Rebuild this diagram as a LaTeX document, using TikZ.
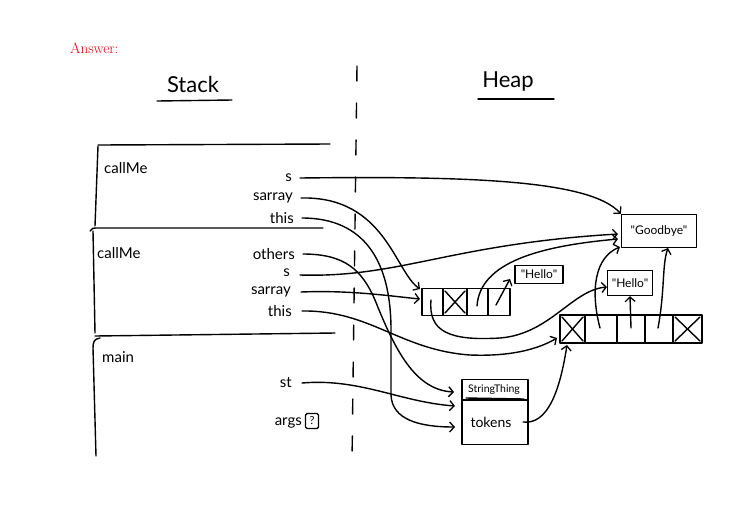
\documentclass[tikz,border=0pt]{standalone}
\usepackage{fontspec}
\newfontfamily\hand{Lato}
\usetikzlibrary{arrows.meta}
\definecolor{ansred}{RGB}{230,0,20}
\tikzset{
  ln/.style={line width=1.4pt, line cap=round, line join=round},
  ar/.style={ln, -{Straight Barb[length=4.5pt,width=10pt,line width=1.3pt]}},
  lbl/.style={font=\hand\fontsize{15}{15}\selectfont, inner sep=0pt, anchor=east},
  frm/.style={font=\hand\fontsize{15}{15}\selectfont, inner sep=0pt, anchor=west},
  ttl/.style={font=\hand\fontsize{22}{22}\selectfont, inner sep=0pt},
  hbox/.style={draw, ln, inner sep=0pt, font=\hand\fontsize{12}{12}\selectfont},
}
\begin{document}
\begin{tikzpicture}[x=1pt,y=-1pt]
\useasboundingbox (0,0) rectangle (744,504);
\fill[white] (0,0) rectangle (744,504);
% answer
\node[anchor=west, inner sep=0pt, text=ansred, font=\fontsize{15}{15}\selectfont] (ans) at (70,48) {Answer:};
% titles
\node[ttl] (stack) at (193,84) {Stack};
\draw[ln] (157,101) -- (232,100);
\node[ttl] (heap) at (508,82) {Heap};
\draw[ln] (478,99) -- (554,99);
% divider
\draw[ln, dash pattern=on 15pt off 22pt] (357,66) -- (352,462);
% stack frames
\draw[ln] (98,145) -- (330,144);
\draw[ln] (98,146) -- (95,226);
\draw[ln] (90,231) .. controls (92,228) .. (100,228) -- (323,228);
\draw[ln] (93,231) -- (95,333);
\draw[ln] (95,336) -- (335,333);
\draw[ln] (100,338) .. controls (94,339) and (93,342) .. (93,348) -- (96,456);
\node[frm] (f1name) at (104,168) {callMe};
\node[frm] (f2name) at (97,253) {callMe};
\node[frm] (f3name) at (102,357) {main};
% frame 1 vars
\node[lbl] (f1s) at (292,178) {s};
\node[lbl] (f1sarray) at (293,198) {sarray};
\node[lbl] (f1this) at (294,218) {this};
% frame 2 vars
\node[lbl] (f2others) at (295,254) {others};
\node[lbl] (f2s) at (290,273) {s};
\node[lbl] (f2sarray) at (291,292) {sarray};
\node[lbl] (f2this) at (292,311) {this};
% main vars
\node[lbl] (st) at (292,383) {st};
\node[lbl] (args) at (302,423) {args};
\node[draw, ln, rounded corners=1.5pt, minimum width=13pt, minimum height=15pt, inner sep=0pt, font=\hand\fontsize{11}{11}\selectfont] (q) at (312,421) {?};
% heap: array 1
\node[draw, ln, minimum width=88pt, minimum height=27pt, inner sep=0pt] (arr1) at (466,302) {};
\draw[ln] (443,289) -- (443,315);
\draw[ln] (467,289) -- (467,315);
\draw[ln] (488,289) -- (488,315);
\draw[ln] (445,313) -- (465,291);
\draw[ln] (445,291) -- (465,313);
% heap: array 2
\node[draw, ln, minimum width=142pt, minimum height=28pt, inner sep=0pt] (arr2) at (631,329) {};
\draw[ln] (585,315) -- (585,343);
\draw[ln] (617,315) -- (617,343);
\draw[ln] (645,315) -- (645,343);
\draw[ln] (673,315) -- (673,343);
\draw[ln] (562,317) -- (583,341);
\draw[ln] (583,317) -- (562,341);
\draw[ln] (675,317) -- (700,341);
\draw[ln] (700,317) -- (675,341);
% strings
\node[hbox, minimum width=48pt, minimum height=18pt] (hello1) at (539,274.5) {"Hello"};
\node[hbox, minimum width=45pt, minimum height=25pt] (hello2) at (630,283) {"Hello"};
\node[hbox, minimum width=75pt, minimum height=33pt] (goodbye) at (659,231) {"Goodbye"};
% StringThing
\node[draw, ln, minimum width=66pt, minimum height=65pt, inner sep=0pt] (sthing) at (495,412) {};
\draw[ln] (462,400) -- (528,400);
\node[inner sep=0pt, font=\hand\fontsize{10.5}{10.5}\selectfont] (stname) at (494,390) {StringThing};
\draw[ln] (466,398) -- (524,399);
\node[inner sep=0pt, font=\hand\fontsize{14}{14}\selectfont] (tokens) at (491,422) {tokens};
% connector coordinates
\coordinate (a1c0) at (431,300);
\coordinate (a1c2) at (477,306);
\coordinate (a1c3) at (496,305);
\coordinate (a2c1) at (600,328);
\coordinate (a2c2) at (631,328);
\coordinate (a2c3) at (658,328);
\coordinate (tk) at (523,422);
% connectors
\draw[ar] (f1s.east) ++(8,0) .. controls (470,176) and (590,180) .. (goodbye.north west);
\draw[ar] (f1sarray.east) ++(8,0) .. controls (385,196) and (395,272) .. (420,289);
\draw[ar] (f1this.east) ++(8,0) .. controls (365,218) and (391,262) .. (391,330) -- (391,395) .. controls (392,420) and (420,427) .. (455,427);
\draw[ar] (f2others.east) ++(8,0) .. controls (345,254) and (362,270) .. (375,300) .. controls (395,350) and (415,390) .. (454,392);
\draw[ar] (f2s.east) ++(10,2) .. controls (400,278) and (450,244) .. (618,234);
\draw[ar] (f2sarray.east) ++(10,0) .. controls (350,290) and (390,296) .. (420,299);
\draw[ar] (f2this.east) ++(10,0) .. controls (370,310) and (400,350) .. (470,355) .. controls (520,357) and (545,345) .. (557,338);
\draw[ar] (st.east) ++(10,0) .. controls (360,378) and (400,402) .. (455,406);
\draw[ar] (tk) .. controls (548,425) and (560,390) .. (567,345);
\draw[ar] (a1c0) .. controls (428,332) and (450,341) .. (500,338) .. controls (550,334) and (572,290) .. (607,287);
\draw[ar] (a1c2) .. controls (480,262) and (540,246) .. (618,239);
\draw[ar] (a1c3) -- (510,279);
\draw[ar] (a2c1) .. controls (590,290) and (595,257) .. (620,247);
\draw[ar] (a2c2) -- (hello2.south);
\draw[ar] (a2c3) .. controls (665,290) and (662,265) .. (668,248);
\end{tikzpicture}
\end{document}
